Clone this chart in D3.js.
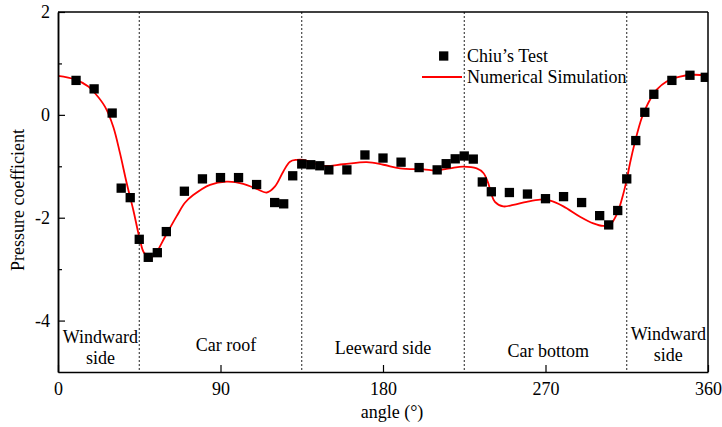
<!DOCTYPE html>
<html>
<head>
<meta charset="utf-8">
<script src="https://cdn.jsdelivr.net/npm/d3@7"></script>
<style>
  body { margin: 0; background: #fff; }
  svg { display: block; }
  text { font-family: "Liberation Serif", "Times New Roman", serif; fill: #000; }
</style>
</head>
<body>
<svg id="chart" width="722" height="427"></svg>
<script>
// Measured pressure coefficients (Chiu's wind tunnel test)
const testAngles = [10, 20, 30, 35, 40, 45, 50, 55, 60, 70, 80, 90, 100, 110, 120, 125, 130, 135,
  140, 145, 150, 160, 170, 180, 190, 200, 210, 215, 220, 225, 230, 235, 240, 250, 260, 270, 280,
  290, 300, 305, 310, 315, 320, 325, 330, 340, 350, 358.5];
const testCp = [0.67, 0.505, 0.035, -1.425, -1.61, -2.42, -2.77, -2.68, -2.27, -1.485, -1.245, -1.22,
  -1.22, -1.355, -1.705, -1.73, -1.185, -0.955, -0.97, -0.99, -1.07, -1.07, -0.78, -0.84, -0.92,
  -1.025, -1.07, -0.95, -0.855, -0.80, -0.86, -1.305, -1.495, -1.51, -1.54, -1.63, -1.59, -1.705,
  -1.96, -2.14, -1.86, -1.245, -0.50, 0.05, 0.40, 0.67, 0.77, 0.73];

// Numerical simulation result
const simAngles = [0, 9.4, 16.8, 20.5, 26, 30.6, 34.3, 38, 41.7, 45.4, 47.8, 51.9, 53.7, 59.3, 65.9,
  70.3, 74.9, 84.2, 93.4, 102.6, 110, 115.6, 120.2, 124.8, 128.5, 132.2, 135.9, 146.9, 158, 171,
  180.2, 189.4, 202.3, 209.7, 217.1, 224.5, 231.9, 235.6, 238.3, 239.8, 242, 246.6, 252.2, 259.6,
  267, 272.5, 279.9, 289.1, 296.5, 302, 305.7, 309.4, 312.2, 315, 316.8, 319.6, 323.3, 326.9,
  331.6, 337.1, 344.5, 351.9, 360];
const simCp = [0.76, 0.69, 0.55, 0.42, 0.16, -0.23, -0.74, -1.32, -1.85, -2.43, -2.69, -2.76, -2.72,
  -2.37, -1.96, -1.71, -1.56, -1.36, -1.30, -1.34, -1.44, -1.51, -1.39, -1.10, -0.91, -0.875, -0.875,
  -0.99, -0.96, -0.92, -0.97, -1.04, -1.06, -1.08, -1.04, -1.005, -1.04, -1.13, -1.33, -1.52, -1.69,
  -1.78, -1.75, -1.69, -1.65, -1.67, -1.78, -1.98, -2.11, -2.16, -2.14, -1.94, -1.65, -1.26, -0.94,
  -0.52, -0.06, 0.23, 0.49, 0.65, 0.745, 0.78, 0.76];

const xTicks = [0, 90, 180, 270, 360];
const yTicks = [2, 0, -2, -4];
const yMinorTicks = [1, -1, -3];
const sectionBounds = [45, 135, 225, 315];
const sectionNames = [["Windward", "side"], ["Car roof"], ["Leeward side"], ["Car bottom"], ["Windward", "side"]];
const sectionLabelAngles = [23.5, 93, 180, 271.5, 338];
const legendNames = ["Chiu\u2019s Test", "Numerical Simulation"];
const xTitle = "angle (\u00b0)";
const yTitle = "Pressure coefficient";

const W = 722, H = 427;
const margin = { left: 58, top: 12, right: 14, bottom: 55 };
const plotW = W - margin.left - margin.right;   // 650
const plotH = H - margin.top - margin.bottom;   // 360

const svg = d3.select("#chart");
const g = svg.append("g").attr("transform", `translate(${margin.left},${margin.top})`);

const x = d3.scaleLinear().domain([0, 360]).range([0, plotW]);
const y = d3.scaleLinear().domain([-5, 2]).range([plotH, 0]);

svg.append("defs").append("clipPath").attr("id", "plotClip")
  .append("rect").attr("x", 0).attr("y", 0).attr("width", plotW).attr("height", plotH);

// section dividers
g.selectAll("line.divider").data(sectionBounds).join("line")
  .attr("class", "divider")
  .attr("x1", d => x(d)).attr("x2", d => x(d))
  .attr("y1", 0).attr("y2", plotH)
  .attr("stroke", "#222").attr("stroke-width", 1)
  .attr("stroke-dasharray", "2,2");

// section labels
const labelCentersY = [347.5, 345, 348, 351, 344.5];
sectionNames.forEach((lines, i) => {
  const cx = x(sectionLabelAngles[i]);
  const cy = labelCentersY[i] - margin.top;
  const lh = 21;
  lines.forEach((t, j) => {
    g.append("text")
      .attr("x", cx)
      .attr("y", cy + (j - (lines.length - 1) / 2) * lh)
      .attr("dy", "0.35em")
      .attr("text-anchor", "middle")
      .attr("font-size", 18)
      .text(t);
  });
});

// simulation curve
const line = d3.line()
  .x((d, i) => x(simAngles[i]))
  .y(d => y(d))
  .curve(d3.curveCatmullRom.alpha(0.5));

const plot = g.append("g").attr("clip-path", "url(#plotClip)");
plot.append("path")
  .attr("d", line(simCp))
  .attr("fill", "none")
  .attr("stroke", "#ff0000")
  .attr("stroke-width", 1.8);

// test markers
const ms = 9.3;
plot.selectAll("rect.test").data(testCp).join("rect")
  .attr("class", "test")
  .attr("x", (d, i) => x(testAngles[i]) - ms / 2)
  .attr("y", d => y(d) - ms / 2)
  .attr("width", ms).attr("height", ms)
  .attr("fill", "#000");

// frame top/right
g.append("line").attr("x1", 0).attr("x2", plotW).attr("y1", 0).attr("y2", 0)
  .attr("stroke", "#000").attr("stroke-width", 1.5);
g.append("line").attr("x1", plotW).attr("x2", plotW).attr("y1", 0).attr("y2", plotH)
  .attr("stroke", "#000").attr("stroke-width", 1.5);

// axes
const styleAxis = sel => {
  sel.select(".domain").attr("stroke", "#000").attr("stroke-width", 1.5);
  sel.selectAll(".tick line").attr("stroke", "#000").attr("stroke-width", 1.2);
  sel.selectAll(".tick text").attr("font-size", 18)
    .attr("font-family", "'Liberation Serif','Times New Roman',serif").attr("fill", "#000");
};

g.append("g")
  .call(d3.axisLeft(y).tickValues(yMinorTicks).tickSize(-4).tickSizeOuter(0).tickFormat(""))
  .call(styleAxis);
g.append("g")
  .call(d3.axisLeft(y).tickValues(yTicks).tickSize(-7).tickSizeOuter(0).tickPadding(8)
    .tickFormat(d => d < 0 ? "-" + Math.abs(d) : d))
  .call(styleAxis);
g.append("g")
  .attr("transform", `translate(0,${plotH})`)
  .call(d3.axisBottom(x).tickValues(xTicks).tickSize(-7).tickSizeOuter(0).tickPadding(10))
  .call(styleAxis);

// axis titles
svg.append("text")
  .attr("x", 392).attr("y", 412).attr("dy", "0.35em")
  .attr("text-anchor", "middle").attr("font-size", 18)
  .text(xTitle);
svg.append("text")
  .attr("transform", "translate(18,200) rotate(-90)")
  .attr("dy", "0.35em")
  .attr("text-anchor", "middle").attr("font-size", 18)
  .text(yTitle);

// legend
const lg = svg.append("g");
lg.append("rect").attr("x", 443.7 - ms / 2).attr("y", 56 - ms / 2)
  .attr("width", ms).attr("height", ms).attr("fill", "#000");
lg.append("line").attr("x1", 422).attr("x2", 462).attr("y1", 77).attr("y2", 77)
  .attr("stroke", "#ff0000").attr("stroke-width", 1.8);
legendNames.forEach((t, i) => {
  lg.append("text").attr("x", 467).attr("y", 56 + i * 21).attr("dy", "0.35em")
    .attr("font-size", 18).text(t);
});
</script>
</body>
</html>
